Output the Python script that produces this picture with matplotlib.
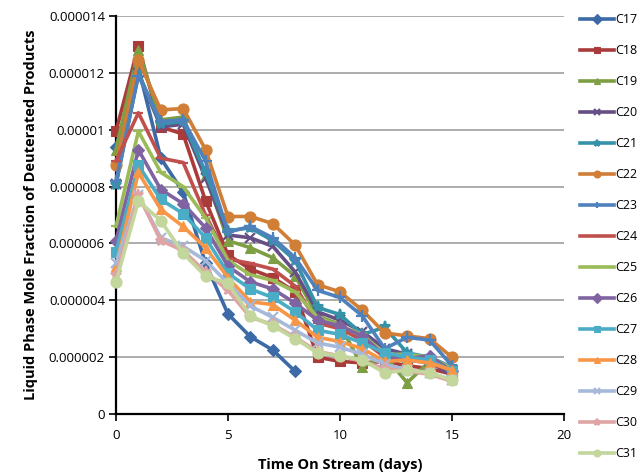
import matplotlib
matplotlib.use("Agg")
import matplotlib.pyplot as plt
import numpy as np

plt.rcParams['font.family'] = ['Open Sans', 'DejaVu Sans']

# Time on stream (days)
days = list(range(16))

# Liquid phase mole fractions of deuterated products, in units of 1e-6
C17 = [9.4, 12.2, 9.0, 7.8, 5.3, 3.52, 2.72, 2.25, 1.5]
C18 = [9.95, 12.95, 10.1, 9.85, 7.5, 5.6, 5.1, 4.8, 4.3, 2.0, 1.85, 1.8, 1.85, 1.7, 1.6, 1.4]
C19 = [9.3, 12.8, 10.35, 10.45, 8.4, 6.1, 5.85, 5.5, 4.85, 3.45, 3.15, 1.65, 2.05, 1.1, 1.85, 1.45]
C20 = [8.1, 12.0, 10.1, 10.2, 8.3, 6.3, 6.2, 5.9, 5.0, 3.6, 3.3, 2.9, 2.3, 2.1, 1.85, 1.35]
C21 = [8.05, 12.0, 10.2, 10.3, 8.5, 6.45, 6.55, 6.1, 5.4, 3.75, 3.5, 2.8, 3.05, 2.15, 2.0, 1.65]
C22 = [8.75, 12.45, 10.7, 10.75, 9.3, 6.95, 6.95, 6.7, 5.95, 4.55, 4.3, 3.65, 2.85, 2.75, 2.65, 2.0]
C23 = [8.2, 11.9, 10.3, 10.35, 8.9, 6.4, 6.6, 6.2, 5.5, 4.35, 4.1, 3.45, 2.3, 2.7, 2.6, 1.7]
C24 = [8.9, 10.6, 9.0, 8.85, 7.0, 5.45, 5.3, 5.1, 4.5, 3.2, 3.0, 2.6, 2.0, 1.9, 1.8, 1.5]
C25 = [6.6, 9.95, 8.5, 8.0, 6.9, 5.4, 4.9, 4.7, 4.3, 3.4, 3.1, 2.8, 2.1, 2.1, 2.0, 1.6]
C26 = [6.1, 9.3, 7.9, 7.4, 6.55, 5.2, 4.65, 4.4, 3.9, 3.3, 3.1, 2.75, 2.05, 1.95, 2.05, 1.5]
C27 = [5.7, 8.75, 7.55, 7.05, 6.2, 4.95, 4.4, 4.1, 3.6, 2.95, 2.8, 2.5, 2.15, 2.0, 1.9, 1.5]
C28 = [5.2, 8.5, 7.2, 6.6, 5.85, 4.8, 3.95, 3.85, 3.3, 2.7, 2.55, 2.3, 1.85, 1.9, 1.8, 1.55]
C29 = [5.3, 7.7, 6.2, 5.9, 5.4, 4.6, 3.8, 3.4, 2.95, 2.5, 2.35, 2.1, 1.75, 1.55, 1.45, 1.2]
C30 = [4.9, 7.7, 6.1, 5.75, 5.0, 4.35, 3.4, 3.15, 2.7, 2.2, 2.05, 1.85, 1.6, 1.5, 1.4, 1.15]
C31 = [4.65, 7.5, 6.8, 5.65, 4.85, 4.6, 3.45, 3.1, 2.65, 2.15, 2.05, 1.9, 1.45, 1.55, 1.45, 1.2]

labels = ["C17", "C18", "C19", "C20", "C21", "C22", "C23", "C24",
          "C25", "C26", "C27", "C28", "C29", "C30", "C31"]
series = [C17, C18, C19, C20, C21, C22, C23, C24,
          C25, C26, C27, C28, C29, C30, C31]
scale = 1e-6

colors = ["#3C6AA6", "#A93C3A", "#7E9E44", "#664F85", "#3592A8", "#D17E36",
          "#4F81BD", "#C0504D", "#9BBB59", "#8064A2", "#4BACC6", "#F79646",
          "#A7B9DA", "#DEA5A4", "#C3D69B"]
markers = ["D", "s", "^", "x", "*", "o", "+", "_", "_", "D", "s", "^", "x", "*", "o"]
msizes = [6, 7, 7, 7, 8, 8, 8, 7, 7, 6, 7, 7, 7, 8, 8]

yticks = [0, 2e-6, 4e-6, 6e-6, 8e-6, 1e-5, 1.2e-5, 1.4e-5]
ytick_labels = ["0", "0.000002", "0.000004", "0.000006", "0.000008",
                "0.00001", "0.000012", "0.000014"]
xticks = [0, 5, 10, 15, 20]

fig = plt.figure(figsize=(6.43, 4.75), dpi=100)
ax = fig.add_axes([0.1804, 0.1284, 0.877 - 0.1804, 0.966 - 0.1284])

for i, (lab, vals) in enumerate(zip(labels, series)):
    x = days[:len(vals)]
    y = np.array(vals) * scale
    ax.plot(x, y, color=colors[i], linewidth=2.6, marker=markers[i],
            markersize=msizes[i], markeredgewidth=1.6 if markers[i] in "x+*_" else 0.8,
            markeredgecolor=colors[i], markerfacecolor=colors[i],
            label=lab, zorder=3 + i, clip_on=False)

ax.set_xlim(0, 20)
ax.set_ylim(0, 1.4e-5)
ax.set_yticks(yticks)
ax.set_yticklabels(ytick_labels)
ax.set_xticks(xticks)
ax.set_xticklabels([str(t) for t in xticks])
ax.tick_params(axis='both', labelsize=9.5, direction='out', length=5, width=1.2,
               colors='black')
ax.tick_params(axis='x', pad=6)
ax.tick_params(axis='y', pad=3)

ax.yaxis.grid(True, color='#A6A6A6', linewidth=1.3)
ax.set_axisbelow(True)
for side in ['top', 'right']:
    ax.spines[side].set_visible(False)
for side in ['left', 'bottom']:
    ax.spines[side].set_linewidth(1.6)
    ax.spines[side].set_color('black')

ax.set_xlabel("Time On Stream (days)", fontsize=10.5, fontweight='bold', labelpad=11)
ax.set_ylabel("Liquid Phase Mole Fraction of Deuterated Products", fontsize=10.5,
              fontweight='bold', labelpad=8)

leg = fig.legend(loc='upper left', bbox_to_anchor=(0.902, 0.972), frameon=False,
                 fontsize=9, labelspacing=1.44, handlelength=2.7, handletextpad=0.15,
                 borderaxespad=0, borderpad=0)
for h in leg.legend_handles:
    h.set_markersize(5)

fig.savefig("out.png", dpi=100)
